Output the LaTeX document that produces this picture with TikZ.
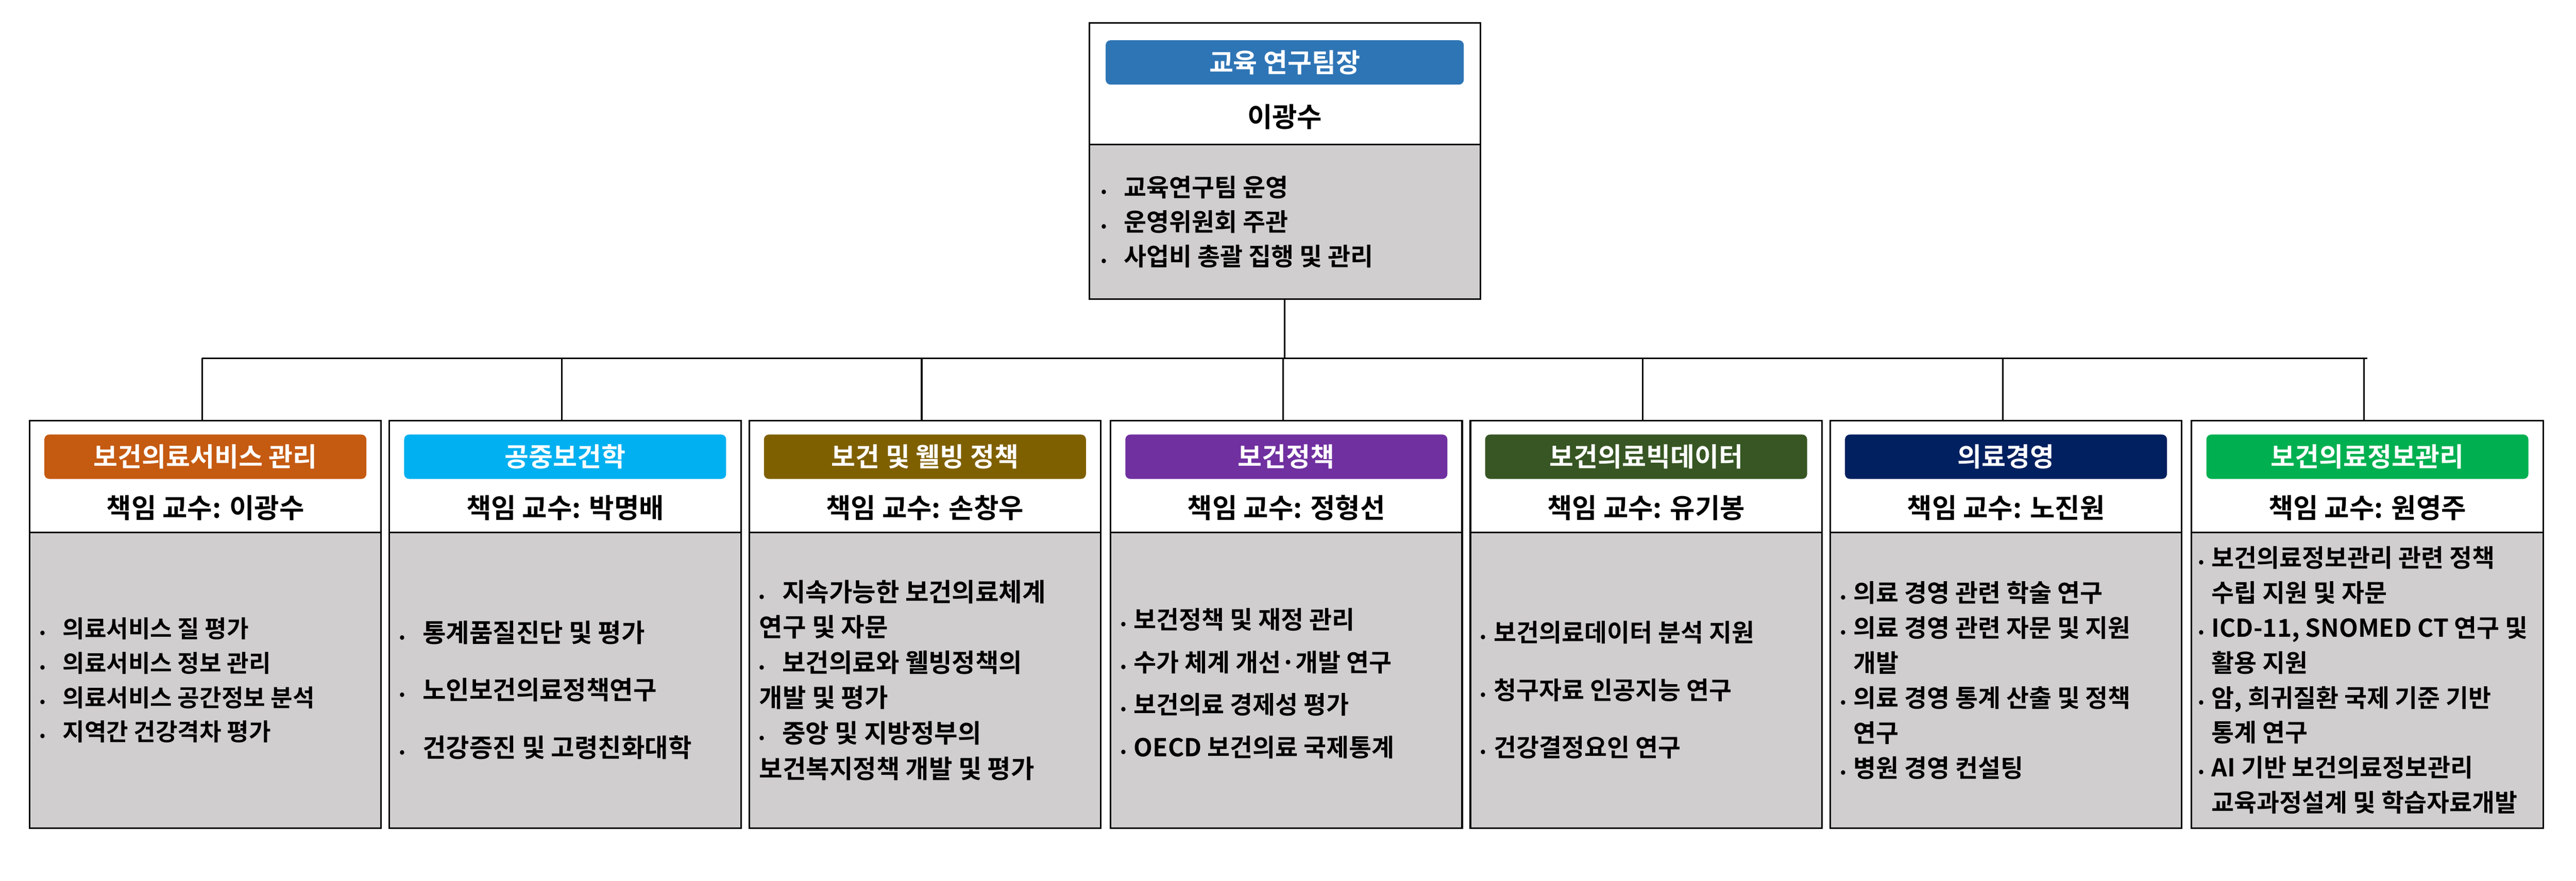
\documentclass[tikz,border=0pt]{standalone}
\usepackage{fontspec}
\setmainfont{Noto Sans CJK KR}[BoldFont={Noto Sans CJK KR Bold}]
\definecolor{grayfill}{HTML}{D0CECE}
\definecolor{cA}{HTML}{C55A11}
\definecolor{cB}{HTML}{00B0F0}
\definecolor{cC}{HTML}{7F6000}
\definecolor{cD}{HTML}{7030A0}
\definecolor{cE}{HTML}{375623}
\definecolor{cF}{HTML}{002060}
\definecolor{cG}{HTML}{00B050}
\definecolor{cTop}{HTML}{2E75B6}
\tikzset{
  frame/.style={draw=black,line width=1pt},
  bar/.style={rounded corners=3pt,text=white,font=\bfseries\fontsize{16}{18}\selectfont,minimum height=27pt,inner sep=0pt},
  prof/.style={font=\bfseries\fontsize{16.5}{18}\selectfont},
  body/.style={align=left,inner sep=0pt,anchor=west},
  link/.style={line width=1pt}
}
\newcommand{\fs}[2]{\bfseries\fontsize{#1}{#2}\selectfont}
\newcommand{\bl}{\makebox[14pt][l]{\fontsize{9}{10}\selectfont•}}
\newcommand{\bk}{\makebox[8pt][l]{\fontsize{9}{10}\selectfont•}}
\begin{document}
\begin{tikzpicture}[x=1pt,y=-1pt]
\useasboundingbox[fill=white] (0,0) rectangle (1568,536);
% top box
\fill[grayfill] (663,88) rectangle (901,182);
\draw[frame] (663,14) rectangle (901,182);
\draw[frame] (663,88) -- (901,88);
\node[bar,fill=cTop,minimum width=218pt] (topbar) at (782,38) {교육 연구팀장};
\node[prof] (topname) at (782,71) {이광수};
\node[body,font=\fs{15}{21}] (toptext) at (670,135) {\bl 교육연구팀 운영\\ \bl 운영위원회 주관\\ \bl 사업비 총괄 집행 및 관리};
\coordinate (top) at (782,182);
\coordinate (hub) at (782,218);
\draw[link] (top) -- (hub);
\draw[link] (123,218) -- (1441,218);
% boxes
\foreach \x/\c/\t/\p [count=\i] in {
 18/cA/보건의료서비스 관리/이광수,
 237/cB/공중보건학/박명배,
 456/cC/보건 및 웰빙 정책/손창우,
 676/cD/보건정책/정형선,
 895/cE/보건의료빅데이터/유기봉,
 1114/cF/의료경영/노진원,
 1334/cG/보건의료정보관리/원영주}{
  \fill[grayfill] (\x,324) rectangle (\x+214,504);
  \draw[frame] (\x,256) rectangle (\x+214,504);
  \draw[frame] (\x,324) -- (\x+214,324);
  \node[bar,fill=\c,minimum width=196pt] (bar\i) at (\x+107,278) {\t};
  \node[prof] (prof\i) at (\x+107,309) {책임 교수: \p};
  \coordinate (drop\i) at (\x+105,218);
  \coordinate (boxtop\i) at (\x+105,256);
  \draw[link] (drop\i) -- (boxtop\i);
}
\node[body,font=\fs{14.5}{21}] (t1) at (24,414) {\bl 의료서비스 질 평가\\ \bl 의료서비스 정보 관리\\ \bl 의료서비스 공간정보 분석\\ \bl 지역간 건강격차 평가};
\node[body,font=\fs{15.5}{35}] (t2) at (243,420) {\bl 통계품질진단 및 평가\\ \bl 노인보건의료정책연구\\ \bl 건강증진 및 고령친화대학};
\node[body,font=\fs{15.5}{21.5}] (t3) at (462,414) {\bl 지속가능한 보건의료체계\\ 연구 및 자문\\ \bl 보건의료와 웰빙정책의\\ 개발 및 평가\\ \bl 중앙 및 지방정부의\\ 보건복지정책 개발 및 평가};
\node[body,font=\fs{15}{26}] (t4) at (682,416) {\bk 보건정책 및 재정 관리\\ \bk 수가 체계 개선·개발 연구\\ \bk 보건의료 경제성 평가\\ \bk OECD 보건의료 국제통계};
\node[body,font=\fs{15}{35}] (t5) at (901,420) {\bk 보건의료데이터 분석 지원\\ \bk 청구자료 인공지능 연구\\ \bk 건강결정요인 연구};
\node[body,font=\fs{15}{21.3}] (t6) at (1120,414) {\bk 의료 경영 관련 학술 연구\\ \bk 의료 경영 관련 자문 및 지원\\ \hspace*{8pt}개발\\ \bk 의료 경영 통계 산출 및 정책\\ \hspace*{8pt}연구\\ \bk 병원 경영 컨설팅};
\node[body,font=\fs{15}{21.3}] (t7) at (1338,414) {\bk 보건의료정보관리 관련 정책\\ \hspace*{8pt}수립 지원 및 자문\\ \bk ICD-11, SNOMED CT 연구 및\\ \hspace*{8pt}활용 지원\\ \bk 암, 희귀질환 국제 기준 기반\\ \hspace*{8pt}통계 연구\\ \bk AI 기반 보건의료정보관리\\ \hspace*{8pt}교육과정설계 및 학습자료개발};
\end{tikzpicture}
\end{document}
